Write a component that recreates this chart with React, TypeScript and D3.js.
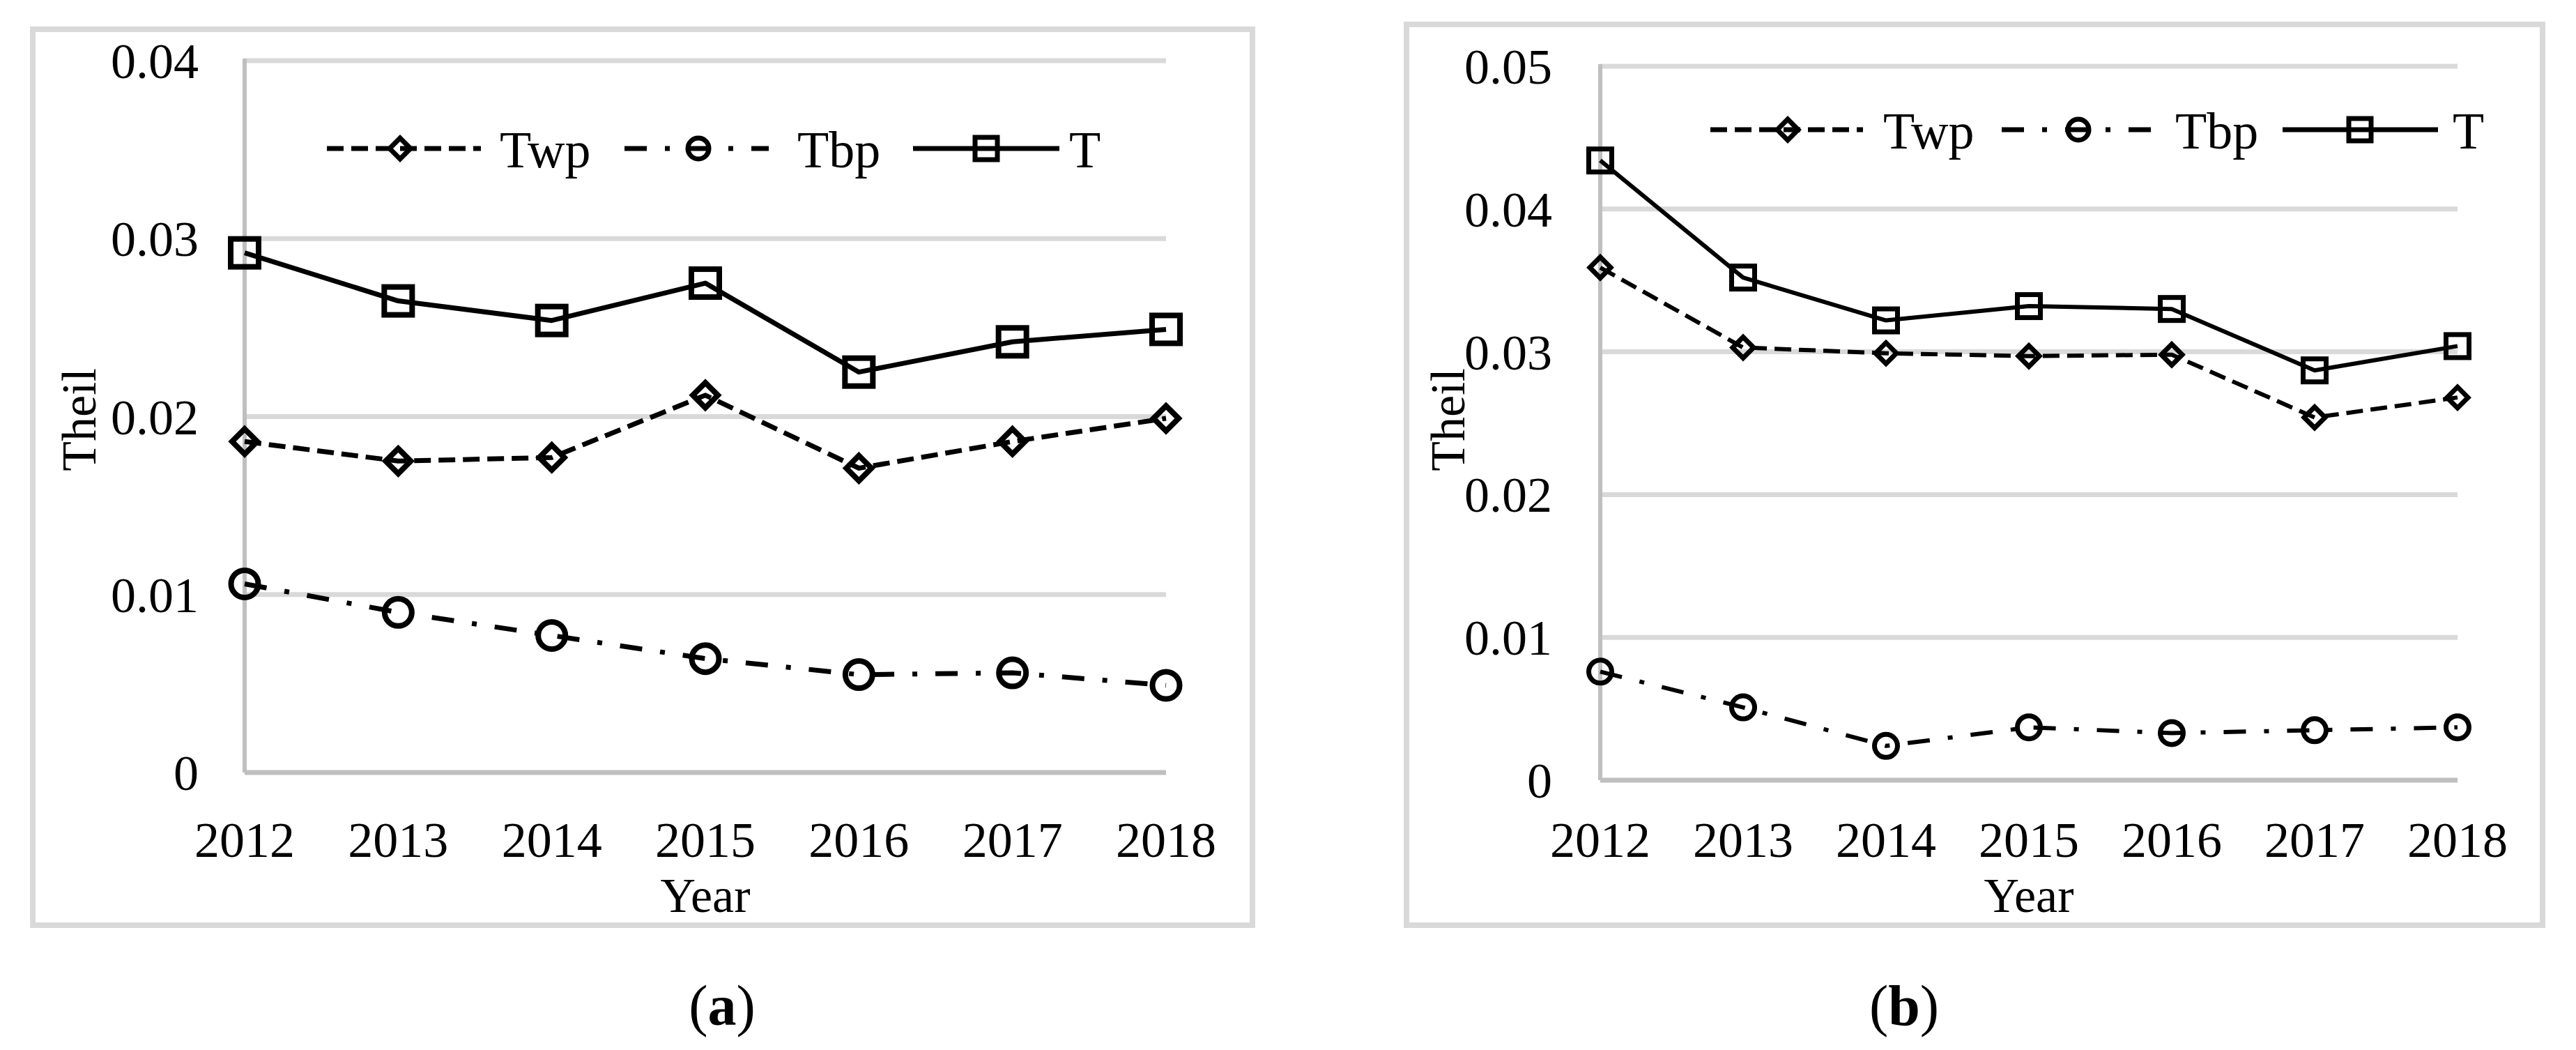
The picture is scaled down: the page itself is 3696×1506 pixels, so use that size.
import React from "react";
import * as d3 from "d3";

const years = [2012, 2013, 2014, 2015, 2016, 2017, 2018];

const twpA = [0.0186, 0.0175, 0.0177, 0.0212, 0.0171, 0.0186, 0.0199];
const tbpA = [0.0106, 0.009, 0.0077, 0.0064, 0.0055, 0.0056, 0.0049];
const tA = [0.0292, 0.0265, 0.0254, 0.0275, 0.0225, 0.0242, 0.0249];

const twpB = [0.0359, 0.0303, 0.0299, 0.0297, 0.0298, 0.0254, 0.0268];
const tbpB = [0.0076, 0.0051, 0.0024, 0.0037, 0.0033, 0.0035, 0.0037];
const tB = [0.0434, 0.0352, 0.0322, 0.0332, 0.033, 0.0287, 0.0304];

const ticksA = [0, 0.01, 0.02, 0.03, 0.04];
const ticksB = [0, 0.01, 0.02, 0.03, 0.04, 0.05];

const seriesNames = ["Twp", "Tbp", "T"];

const FONT = "'Liberation Serif', 'DejaVu Serif', serif";
const DASH: Record<string, string | undefined> = {
  Twp: "24 11",
  Tbp: "32 26 7 26",
  T: undefined,
};

function Marker({ kind, x, y, s, sw }: { kind: string; x: number; y: number; s: number; sw: number }) {
  if (kind === "T") {
    return <rect x={x - s / 2} y={y - s / 2} width={s} height={s} fill="none" stroke="#000" strokeWidth={sw} />;
  }
  if (kind === "Twp") {
    const r = s * 0.5;
    const p = d3.path();
    p.moveTo(x, y - r);
    p.lineTo(x + r, y);
    p.lineTo(x, y + r);
    p.lineTo(x - r, y);
    p.closePath();
    return <path d={p.toString()} fill="none" stroke="#000" strokeWidth={sw} strokeLinejoin="miter" />;
  }
  return <circle cx={x} cy={y} r={s * 0.5} fill="none" stroke="#000" strokeWidth={sw} />;
}

type PanelProps = {
  frame: [number, number, number, number];
  xr: [number, number];
  yr: [number, number];
  ymax: number;
  ticks: number[];
  data: number[][];
  tickRight: number;
  theilX: number;
  legendY: number;
  legendItems: { x0: number; x1: number; mx: number; tx: number }[];
  msz: { T: number; Twp: number; Tbp: number };
  sw: number;
  lw: number;
  label: string;
  labelX: number;
};

function Panel(p: PanelProps) {
  const x = d3.scalePoint<number>().domain(years).range(p.xr);
  const y = d3.scaleLinear().domain([0, p.ymax]).range(p.yr);
  const line = d3
    .line<number>()
    .x((_, i) => x(years[i]) as number)
    .y((d) => y(d));
  const [fx0, fy0, fx1, fy1] = p.frame;
  const plotCx = (p.xr[0] + p.xr[1]) / 2;
  return (
    <g>
      <rect x={fx0} y={fy0} width={fx1 - fx0} height={fy1 - fy0} fill="#fff" stroke="#d9d9d9" strokeWidth={8} />
      {p.ticks.filter((t) => t > 0).map((t) => (
        <line key={t} x1={p.xr[0]} x2={p.xr[1]} y1={y(t)} y2={y(t)} stroke="#d9d9d9" strokeWidth={7} />
      ))}
      <line x1={p.xr[0]} x2={p.xr[0]} y1={y(p.ymax) - 3} y2={y(0)} stroke="#bfbfbf" strokeWidth={6} />
      <line x1={p.xr[0]} x2={p.xr[1]} y1={y(0)} y2={y(0)} stroke="#bfbfbf" strokeWidth={7} />
      {p.ticks.map((t) => (
        <text key={t} x={p.tickRight} y={y(t) + 25} textAnchor="end" fontFamily={FONT} fontSize={72} fill="#000">
          {t === 0 ? "0" : d3.format(".2f")(t)}
        </text>
      ))}
      {years.map((yr) => (
        <text key={yr} x={x(yr)} y={1229} textAnchor="middle" fontFamily={FONT} fontSize={72} fill="#000">
          {yr}
        </text>
      ))}
      <text x={plotCx} y={1308} textAnchor="middle" fontFamily={FONT} fontSize={70} fill="#000">
        Year
      </text>
      <text
        transform={`translate(${p.theilX},602) rotate(-90)`}
        textAnchor="middle"
        fontFamily={FONT}
        fontSize={70}
        fill="#000"
      >
        Theil
      </text>
      {seriesNames.map((name, si) => (
        <g key={name}>
          <path
            d={line(p.data[si]) as string}
            fill="none"
            stroke="#000"
            strokeWidth={p.lw}
            strokeDasharray={DASH[name]}
            strokeLinejoin="round"
          />
          {p.data[si].map((v, i) => (
            <Marker key={i} kind={name} x={x(years[i]) as number} y={y(v)} s={(p.msz as any)[name]} sw={p.sw} />
          ))}
        </g>
      ))}
      {seriesNames.map((name, si) => {
        const it = p.legendItems[si];
        return (
          <g key={"lg" + name}>
            <line
              x1={it.x0}
              x2={it.x1}
              y1={p.legendY}
              y2={p.legendY}
              stroke="#000"
              strokeWidth={7}
              strokeDasharray={DASH[name]}
            />
            <Marker kind={name} x={it.mx} y={p.legendY} s={name === "T" ? 32 : 30} sw={7} />
            <text x={it.tx} y={p.legendY + 27} fontFamily={FONT} fontSize={74} fill="#000">
              {name}
            </text>
          </g>
        );
      })}
      <text x={p.labelX} y={1470} textAnchor="middle" fontFamily={FONT} fontSize={82} fill="#000">
        (<tspan fontWeight="bold">{p.label}</tspan>)
      </text>
    </g>
  );
}

export default function App() {
  return (
    <svg
      width={3696}
      height={1506}
      style={{ position: "absolute", left: 0, top: 0, display: "block", background: "#fff" }}
    >
      <rect x={0} y={0} width={3696} height={1506} fill="#fff" />
      <Panel
        frame={[47, 42, 1797, 1327]}
        xr={[351, 1673]}
        yr={[1108, 87]}
        ymax={0.04}
        ticks={ticksA}
        data={[twpA, tbpA, tA]}
        tickRight={285}
        theilX={137}
        legendY={213}
        legendItems={[
          { x0: 469, x1: 690, mx: 574, tx: 717 },
          { x0: 896, x1: 1103, mx: 1002, tx: 1144 },
          { x0: 1310, x1: 1520, mx: 1415, tx: 1534 },
        ]}
        msz={{ T: 40, Twp: 36, Tbp: 39 }}
        sw={8}
        lw={7}
        label="a"
        labelX={1036}
      />
      <Panel
        frame={[2018, 35, 3648, 1327]}
        xr={[2296, 3526]}
        yr={[1119, 95]}
        ymax={0.05}
        ticks={ticksB}
        data={[twpB, tbpB, tB]}
        tickRight={2227}
        theilX={2101}
        legendY={186}
        legendItems={[
          { x0: 2454, x1: 2673, mx: 2565, tx: 2702 },
          { x0: 2872, x1: 3088, mx: 2982, tx: 3121 },
          { x0: 3275, x1: 3498, mx: 3386, tx: 3519 },
        ]}
        msz={{ T: 33, Twp: 30, Tbp: 33 }}
        sw={7}
        lw={6}
        label="b"
        labelX={2732}
      />
    </svg>
  );
}
